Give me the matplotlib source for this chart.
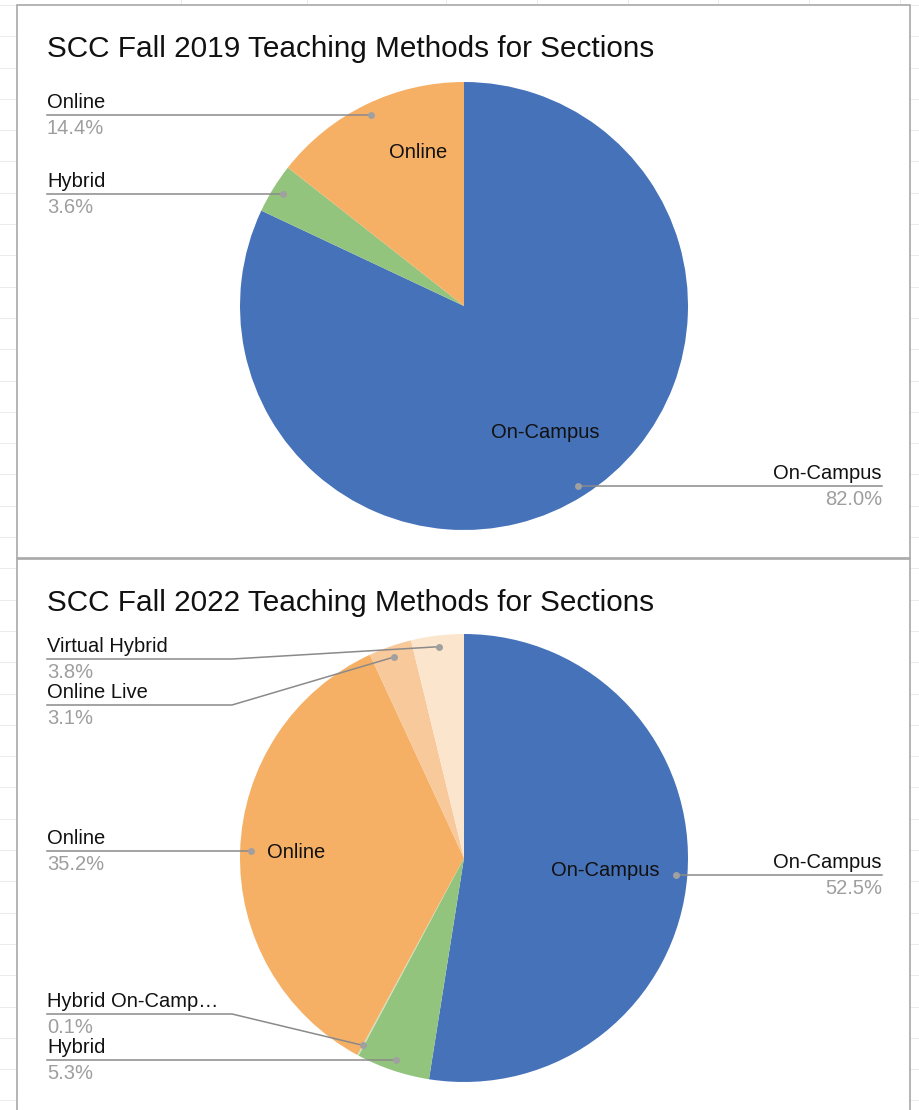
import matplotlib
matplotlib.use('Agg')
import matplotlib.pyplot as plt
import numpy as np
from matplotlib.patches import Rectangle

plt.rcParams['font.family'] = ['Liberation Sans', 'DejaVu Sans']

W, H = 919, 1110

# ---- data ----
titles = ['SCC Fall 2019 Teaching Methods for Sections',
          'SCC Fall 2022 Teaching Methods for Sections']

names_2019 = ['On-Campus', 'Hybrid', 'Online']
values_2019 = [82.0, 3.6, 14.4]
colors_2019 = ['#4672b9', '#93c47d', '#f5b066']

names_2022 = ['On-Campus', 'Hybrid', 'Hybrid On-Camp\u2026', 'Online', 'Online Live', 'Virtual Hybrid']
values_2022 = [52.5, 5.3, 0.1, 35.2, 3.1, 3.8]
colors_2022 = ['#4672b9', '#93c47d', '#c9dfb9', '#f5b066', '#f8c99b', '#fce5cd']

# label layout: side, y of leader line in pixels (None = at the dot)
layout_2019 = [('right', None), ('left', None), ('left', None)]
layout_2022 = [('right', None), ('left', None), ('left', 1014), ('left', None),
               ('left', 705), ('left', 659)]
inside_2019 = {0: (545, 432), 2: (418, 153)}
inside_2022 = {0: (605, 871), 3: (296, 853)}


def Y(p):
    return H - p


fig = plt.figure(figsize=(W / 100, H / 100), dpi=100)
ax = fig.add_axes([0, 0, 1, 1])

# spreadsheet grid behind the charts
for gx in [181, 307, 446, 537, 628, 718, 809, 900]:
    ax.plot([gx, gx], [0, H], color='#ececec', lw=0.7, zorder=0.2)
for gy in np.arange(4.9, H, 31.3):
    ax.plot([0, W], [Y(gy), Y(gy)], color='#ececec', lw=0.7, zorder=0.2)

GRAY_LINE = '#8a8a8a'
GRAY_TXT = '#9e9e9e'
FS = 14.5


def draw_chart(top, cy, title, names, values, colors, layout, inside):
    ax.add_patch(Rectangle((17, Y(top + 553)), 893, 553, facecolor='white',
                           edgecolor='#a8a8a8', lw=1.2, zorder=0.5))
    ax.text(47, Y(top + 52), title, fontsize=21.4, color='#111111',
            va='baseline', ha='left', zorder=5)
    cx = 464
    r = 224
    wedges, _ = ax.pie(values, colors=colors, startangle=90, counterclock=False,
                       center=(cx, Y(cy)), radius=r, frame=True,
                       wedgeprops=dict(linewidth=0, zorder=2))
    for i, w in enumerate(wedges):
        mid = np.deg2rad((w.theta1 + w.theta2) / 2)
        dx = cx + 0.95 * r * np.cos(mid)
        dy_pix = cy - 0.95 * r * np.sin(mid)
        side, ly = layout[i]
        if ly is None:
            ly = dy_pix
        if side == 'left':
            xs = [47, 232, dx]
            ys = [ly, ly, dy_pix]
            tx, ha = 47, 'left'
        else:
            xs = [dx, 882]
            ys = [dy_pix, dy_pix]
            ly = dy_pix
            tx, ha = 882, 'right'
        ax.plot(xs, [Y(v) for v in ys], color=GRAY_LINE, lw=1.1, zorder=3)
        ax.plot(dx, Y(dy_pix), 'o', ms=5, color='#a0a0a0', mec='none', zorder=4)
        ax.text(tx, Y(ly - 7), names[i], fontsize=FS, color='#111111',
                ha=ha, va='baseline', zorder=5)
        ax.text(tx, Y(ly + 19), f'{values[i]:.1f}%', fontsize=FS, color=GRAY_TXT,
                ha=ha, va='baseline', zorder=5)
    for i, (px, py) in inside.items():
        ax.text(px, Y(py), names[i], fontsize=FS, color='#111111',
                ha='center', va='center', zorder=5)


draw_chart(5, 306, titles[0], names_2019, values_2019, colors_2019, layout_2019, inside_2019)
draw_chart(559, 858, titles[1], names_2022, values_2022, colors_2022, layout_2022, inside_2022)

ax.set_xlim(0, W)
ax.set_ylim(0, H)
ax.set_aspect('auto')
ax.axis('off')

fig.savefig('out.png', dpi=100, facecolor='white')
